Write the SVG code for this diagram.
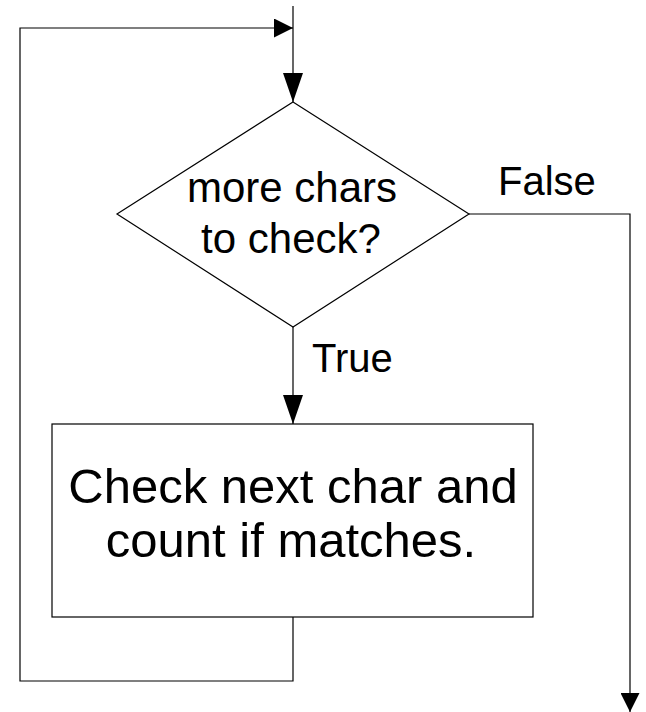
<svg xmlns="http://www.w3.org/2000/svg" width="646" height="712" viewBox="0 0 646 712">
<defs>
<style>
.ln{fill:none;stroke:#000;stroke-width:1.2}
.nd{fill:#fff;stroke:#000;stroke-width:1.2}
.t{font-family:"Liberation Sans",Arial,sans-serif;fill:#000}
</style>
<marker id="ah" viewBox="0 0 20 20" refX="20" refY="10" markerUnits="userSpaceOnUse" markerWidth="20" markerHeight="19" orient="auto">
<path d="M0,0 L20,10 L0,20 Z" fill="#000"/>
</marker>
<marker id="ahl" viewBox="0 0 29 20" refX="29" refY="10" markerUnits="userSpaceOnUse" markerWidth="29" markerHeight="20" orient="auto">
<path d="M0,0 L29,10 L0,20 Z" fill="#000"/>
</marker>
</defs>
<rect width="646" height="712" fill="#fff"/>
<g id="connectors">
<path class="ln" d="M293,6 L293,102" marker-end="url(#ahl)"/>
<path class="ln" d="M293,617 L293,681 L20,681 L20,28 L293,28" marker-end="url(#ah)"/>
<path class="ln" d="M293,327 L293,424" marker-end="url(#ahl)"/>
<path class="ln" d="M469,214 L630,214 L630,712" marker-end="url(#ah)"/>
<text class="t" x="498" y="195" font-size="40">False</text>
<text class="t" x="312" y="372" font-size="40">True</text>
</g>
<g id="decision">
<polygon class="nd" points="293,102 469,214 293,327 117,214"/>
<text class="t" x="292" y="202" font-size="42" text-anchor="middle">more chars</text>
<text class="t" x="291" y="253" font-size="42" text-anchor="middle">to check?</text>
</g>
<g id="process">
<rect class="nd" x="52" y="424" width="481" height="193"/>
<text class="t" x="293" y="503" font-size="49" text-anchor="middle">Check next char and</text>
<text class="t" x="291" y="557" font-size="49" text-anchor="middle">count if matches.</text>
</g>
</svg>
